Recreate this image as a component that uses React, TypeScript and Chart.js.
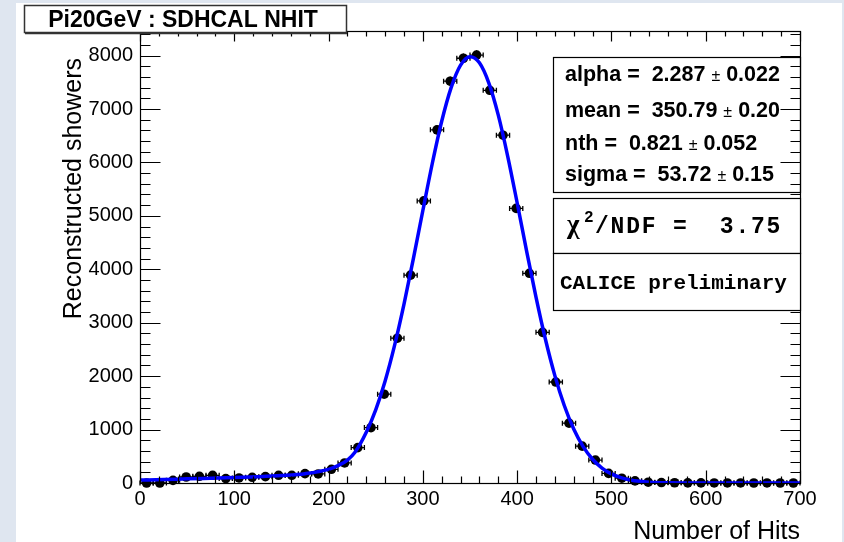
import React, { useEffect, useRef } from "react";
import { Chart, registerables } from "chart.js";

Chart.register(...registerables);

// ---------------- data ----------------
const binCenters = [
  7, 21, 35, 49, 63, 77, 91, 105, 119, 133,
  147, 161, 175, 189, 203, 217, 231, 245, 259, 273,
  287, 301, 315, 329, 343, 357, 371, 385, 399, 413,
  427, 441, 455, 469, 483, 497, 511, 525, 539, 553,
  567, 581, 595, 609, 623, 637, 651, 665, 679, 693,
];
const counts = [
  0, 0, 50, 112, 125, 144, 82, 94, 107, 119,
  144, 144, 175, 169, 256, 375, 663, 1037, 1662, 2710,
  3890, 5280, 6610, 7520, 7950, 8010, 7350, 6510, 5140, 3925,
  2820, 1890, 1120, 690, 430, 180, 90, 40, 15, 8,
  5, 3, 2, 1, 1, 1, 0, 1, 0, 0,
];
const binHalfWidth = 7;

const fitX = [
  0, 25, 50, 75, 100, 125, 150, 175, 200, 210, 220, 228, 240, 250, 260, 270,
  280, 290, 300, 310, 320, 330, 340, 350, 360, 370, 380, 390, 400, 410, 420,
  430, 440, 450, 460, 470, 480, 490, 500, 510, 520, 530, 540, 560, 580, 600,
  650, 700,
];
const fitY = [
  55, 65, 78, 90, 102, 118, 140, 175, 255, 325, 430, 575, 950, 1370, 1910, 2575,
  3350, 4205, 5100, 5980, 6770, 7400, 7820, 7980, 7865, 7485, 6885, 6115, 5245, 4345, 3480,
  2690, 2010, 1450, 1010, 680, 445, 280, 170, 100, 56, 31, 16, 4, 1, 0,
  0, 0,
];

const xTickValues = [0, 100, 200, 300, 400, 500, 600, 700];
const yTickValues = [0, 1000, 2000, 3000, 4000, 5000, 6000, 7000, 8000];

const titleText = "Pi20GeV : SDHCAL NHIT";
const xTitle = "Number of Hits";
const yTitle = "Reconstructed showers";
const paramNames = ["alpha =", "mean =", "nth =", "sigma ="];
const paramValues = ["2.287", "350.79", "0.821", "53.72"];
const paramErrors = ["0.022", "0.20", "0.052", "0.15"];
const chi2Label = "/NDF =  ";
const chi2Value = "3.75";
const caliceText = "CALICE preliminary";

const xMin = 0;
const xMax = 700;
const yMin = 0;
const yMax = 8460;

// ---------------- styling ----------------
const SANS = '"Liberation Sans", Arial, Helvetica, sans-serif';
const MONO = '"Liberation Mono", "Courier New", monospace';
const SERIF = '"Liberation Serif", "DejaVu Serif", serif';

const rootPlugin = {
  id: "rootStyle",
  beforeDraw(chart: any) {
    const ctx = chart.ctx;
    ctx.save();
    ctx.fillStyle = "#dfe6f0";
    ctx.fillRect(0, 0, chart.width, chart.height);
    ctx.fillStyle = "#ffffff";
    ctx.fillRect(16, 3, 826, 539);
    ctx.restore();
  },
  beforeDatasetsDraw(chart: any) {
    const ctx = chart.ctx;
    const xs = chart.scales.x;
    const ys = chart.scales.y;
    ctx.save();
    ctx.strokeStyle = "#000";
    ctx.lineWidth = 1.3;
    binCenters.forEach((c, i) => {
      const v = counts[i];
      const py = ys.getPixelForValue(v);
      const px = xs.getPixelForValue(c);
      const x0 = xs.getPixelForValue(c - binHalfWidth);
      const x1 = xs.getPixelForValue(c + binHalfWidth);
      ctx.beginPath();
      ctx.moveTo(x0, py);
      ctx.lineTo(x1, py);
      ctx.moveTo(x0, py - 2.5);
      ctx.lineTo(x0, py + 2.5);
      ctx.moveTo(x1, py - 2.5);
      ctx.lineTo(x1, py + 2.5);
      const e = Math.sqrt(v);
      ctx.moveTo(px, ys.getPixelForValue(v - e));
      ctx.lineTo(px, ys.getPixelForValue(v + e));
      ctx.stroke();
    });
    ctx.restore();
  },
  afterDraw(chart: any) {
    const ctx = chart.ctx;
    const xs = chart.scales.x;
    const ys = chart.scales.y;
    const ca = chart.chartArea;
    const L = Math.round(ca.left) + 0.5;
    const R = Math.round(ca.right) + 0.5;
    const T = Math.round(ca.top) + 0.5;
    const B = Math.round(ca.bottom) + 0.5;
    ctx.save();

    // stat box (drawn below the axis ticks)
    const sbL = 553.5;
    ctx.fillStyle = "#fff";
    ctx.fillRect(sbL, 57.5, R - sbL, 135);
    ctx.strokeStyle = "#000";
    ctx.lineWidth = 1.2;
    ctx.strokeRect(sbL, 57.5, R - sbL, 135);

    ctx.fillStyle = "#000";
    ctx.textBaseline = "alphabetic";
    ctx.textAlign = "left";
    const baselines = [81, 116.5, 150, 181];
    paramNames.forEach((n, i) => {
      let x = 565;
      const y = baselines[i];
      ctx.font = `bold 21.5px ${SANS}`;
      const s1 = n + "  " + paramValues[i] + " ";
      ctx.fillText(s1, x, y);
      x += ctx.measureText(s1).width;
      ctx.font = `16px ${SANS}`;
      ctx.fillText("\u00b1", x, y);
      x += ctx.measureText("\u00b1").width;
      ctx.font = `bold 21.5px ${SANS}`;
      ctx.fillText(" " + paramErrors[i], x, y);
    });

    // frame
    ctx.strokeStyle = "#000";
    ctx.lineWidth = 1.2;
    ctx.strokeRect(L, T, R - L, B - T);

    // ticks
    ctx.beginPath();
    for (let v = xMin; v <= xMax + 1e-6; v += 20) {
      const px = Math.round(xs.getPixelForValue(v)) + 0.5;
      const major = v % 100 === 0;
      ctx.moveTo(px, B);
      ctx.lineTo(px, B - (major ? 13 : 7));
      ctx.moveTo(px, T);
      ctx.lineTo(px, T + (major ? 10 : 5));
    }
    for (let v = yMin; v <= yMax; v += 200) {
      const py = Math.round(ys.getPixelForValue(v)) + 0.5;
      const major = v % 1000 === 0;
      ctx.moveTo(L, py);
      ctx.lineTo(L + (major ? 20 : 10), py);
      ctx.moveTo(R, py);
      ctx.lineTo(R - (major ? 20 : 10), py);
    }
    ctx.stroke();

    // chi2 box
    ctx.fillStyle = "#fff";
    ctx.fillRect(sbL, 198.5, R - sbL, 55);
    ctx.strokeRect(sbL, 198.5, R - sbL, 55);
    // calice box
    ctx.fillRect(sbL, 253.5, R - sbL, 57);
    ctx.strokeRect(sbL, 253.5, R - sbL, 57);

    ctx.fillStyle = "#000";
    ctx.font = `bold 27px ${SERIF}`;
    ctx.fillText("\u03c7", 567, 233);
    ctx.font = `bold 16px ${MONO}`;
    ctx.fillText("2", 584, 222);
    ctx.font = `bold 23px ${MONO}`;
    (ctx as any).letterSpacing = "1.8px";
    ctx.fillText(chi2Label + chi2Value, 595, 233);
    (ctx as any).letterSpacing = "0px";
    ctx.font = `bold 21px ${MONO}`;
    ctx.fillText(caliceText, 560, 289);

    // title box
    ctx.fillStyle = "#fff";
    ctx.fillRect(24.5, 5.5, 322, 27);
    ctx.strokeStyle = "#333";
    ctx.lineWidth = 1.5;
    ctx.strokeRect(24.5, 5.5, 322, 27);
    ctx.beginPath();
    ctx.moveTo(25, 33.5);
    ctx.lineTo(347, 33.5);
    ctx.stroke();
    ctx.fillStyle = "#000";
    ctx.font = `bold 23px ${SANS}`;
    ctx.textAlign = "center";
    ctx.fillText(titleText, 183, 27);

    // axis titles
    ctx.font = `25px ${SANS}`;
    ctx.textAlign = "right";
    ctx.fillText(xTitle, 800, 539);
    ctx.save();
    ctx.translate(81, 58);
    ctx.rotate(-Math.PI / 2);
    ctx.textAlign = "right";
    ctx.fillText(yTitle, 0, 0);
    ctx.restore();

    ctx.restore();
  },
};

export default function App() {
  const canvasRef = useRef<HTMLCanvasElement | null>(null);

  useEffect(() => {
    const canvas = canvasRef.current;
    if (!canvas) return;
    const chart = new Chart(canvas, {
      type: "scatter",
      data: {
        datasets: [
          {
            type: "line",
            label: "fit",
            data: fitX.map((x, i) => ({ x, y: fitY[i] })),
            borderColor: "#0000ff",
            borderWidth: 3.5,
            pointRadius: 0,
            cubicInterpolationMode: "monotone",
            fill: false,
          } as any,
          {
            type: "scatter",
            label: "data",
            data: binCenters.map((x, i) => ({ x, y: counts[i] })),
            backgroundColor: "#000",
            borderColor: "#000",
            pointRadius: 4.8,
            pointBorderWidth: 0,
            clip: false,
          } as any,
        ],
      },
      options: {
        animation: false,
        responsive: false,
        devicePixelRatio: 1,
        layout: { padding: { left: 0, right: 44, top: 31, bottom: 0 } },
        plugins: {
          legend: { display: false },
          tooltip: { enabled: false },
        },
        scales: {
          x: {
            type: "linear",
            min: xMin,
            max: xMax,
            grid: { display: false, drawTicks: false },
            border: { display: false },
            afterBuildTicks(scale: any) {
              scale.ticks = xTickValues.map((value) => ({ value }));
            },
            ticks: {
              padding: 4,
              color: "#000",
              maxRotation: 0,
              autoSkip: false,
              font: { family: SANS, size: 20 },
              callback: (v: any) => String(v),
            },
            afterFit(scale: any) {
              scale.height = 59;
            },
          },
          y: {
            type: "linear",
            min: yMin,
            max: yMax,
            grid: { display: false, drawTicks: false },
            border: { display: false },
            afterBuildTicks(scale: any) {
              scale.ticks = yTickValues.map((value) => ({ value }));
            },
            ticks: {
              padding: 7,
              color: "#000",
              autoSkip: false,
              font: { family: SANS, size: 20 },
              callback: (v: any) => String(v),
            },
            afterFit(scale: any) {
              scale.width = 140;
            },
          },
        },
      } as any,
      plugins: [rootPlugin],
    });
    return () => chart.destroy();
  }, []);

  return (
    <div style={{ position: "fixed", left: 0, top: 0, width: 844, height: 542 }}>
      <canvas ref={canvasRef} width={844} height={542} style={{ display: "block" }} />
    </div>
  );
}
